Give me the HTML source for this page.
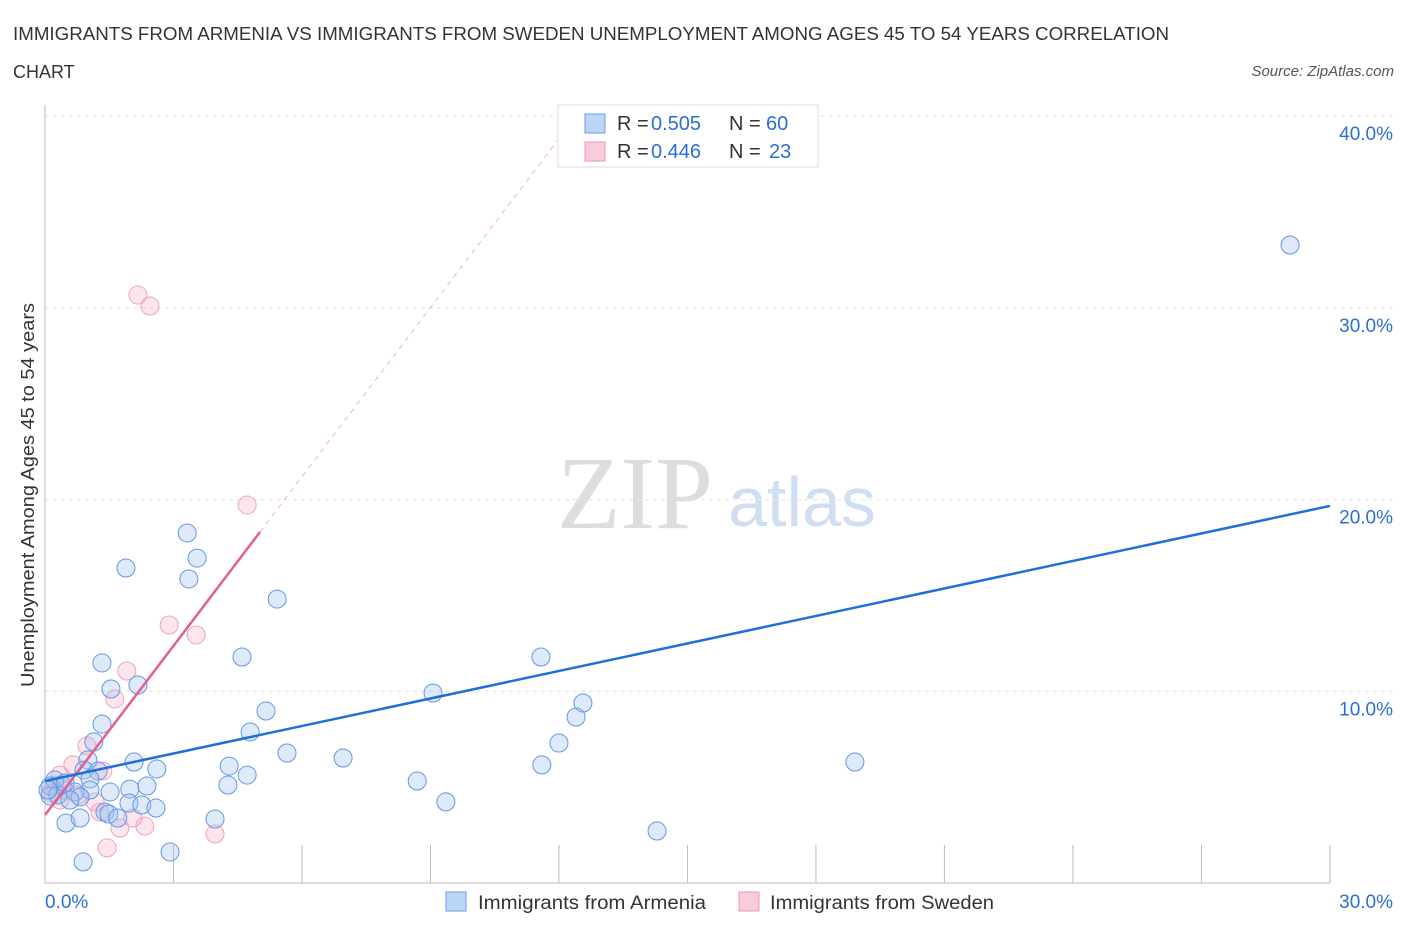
<!DOCTYPE html>
<html><head><meta charset="utf-8"><style>
body{margin:0;background:#fff;font-family:"Liberation Sans",sans-serif}
svg{display:block}
</style></head><body>
<svg width="1406" height="930" id="c">
<text x="13" y="40" font-size="18" fill="#333" textLength="1156" lengthAdjust="spacingAndGlyphs">IMMIGRANTS FROM ARMENIA VS IMMIGRANTS FROM SWEDEN UNEMPLOYMENT AMONG AGES 45 TO 54 YEARS CORRELATION</text>
<text x="13" y="78" font-size="18" fill="#333">CHART</text>
<text x="1394" y="76" font-size="15" fill="#555" text-anchor="end" font-style="italic">Source: ZipAtlas.com</text>
<text x="635" y="528" font-size="104" fill="#ddd" font-family="Liberation Serif,serif" text-anchor="middle">ZIP</text>
<text x="802" y="526" font-size="70" fill="#d0def2" text-anchor="middle">atlas</text>
<text transform="translate(34,495) rotate(-90)" font-size="18" fill="#333" text-anchor="middle" textLength="384" lengthAdjust="spacingAndGlyphs">Unemployment Among Ages 45 to 54 years</text>
<g id="grid"></g><g id="marks"></g>
<g>
<rect x="558" y="105" width="260" height="62" fill="#fff" stroke="#ddd"/>
<rect x="585" y="114" width="20" height="19" fill="#bcd4f5" stroke="#6a9ee6"/>
<rect x="585" y="142" width="20" height="19" fill="#f9ccd9" stroke="#eb98b2"/>
<text x="617" y="130" font-size="20" fill="#333">R =</text>
<text x="651" y="130" font-size="20" fill="#2b6fd6">0.505</text>
<text x="729" y="130" font-size="20" fill="#333">N =</text>
<text x="766" y="130" font-size="20" fill="#2b6fd6">60</text>
<text x="617" y="158" font-size="20" fill="#333">R =</text>
<text x="651" y="158" font-size="20" fill="#2b6fd6">0.446</text>
<text x="729" y="158" font-size="20" fill="#333">N =</text>
<text x="769" y="158" font-size="20" fill="#2b6fd6">23</text>
</g>
<g>
<rect x="446" y="892" width="20" height="19" fill="#bcd4f5" stroke="#6a9ee6"/>
<text x="478" y="909" font-size="19" fill="#333" textLength="228" lengthAdjust="spacingAndGlyphs">Immigrants from Armenia</text>
<rect x="739" y="892" width="20" height="19" fill="#f9ccd9" stroke="#eb98b2"/>
<text x="770" y="909" font-size="19" fill="#333" textLength="224" lengthAdjust="spacingAndGlyphs">Immigrants from Sweden</text>
</g>
</svg>
<script>
const blueX=[29.07,3.32,3.55,3.36,1.89,5.42,4.60,11.58,1.33,2.17,1.54,9.06,5.16,12.56,12.40,1.33,4.79,1.14,12.00,5.65,6.96,2.08,18.91,2.61,4.30,1.00,0.91,1.24,4.72,1.05,4.27,8.69,11.60,2.38,1.98,1.52,1.05,0.70,0.40,0.23,0.12,0.12,0.30,0.82,1.96,2.26,2.59,9.36,1.40,1.49,1.70,3.97,0.49,0.82,14.29,2.92,0.89,0.07,0.47,0.58];
const blueY=[33.28,18.26,16.95,15.86,16.43,14.81,11.79,11.79,11.48,10.33,10.12,9.91,8.97,9.39,8.66,8.29,7.88,7.36,7.30,6.78,6.52,6.31,6.31,5.95,6.10,6.42,5.89,5.84,5.63,5.43,5.11,5.32,6.16,5.06,4.90,4.75,4.85,4.75,5.11,5.37,5.06,4.54,4.59,4.49,4.17,4.07,3.91,4.23,3.70,3.60,3.39,3.34,3.13,3.39,2.71,1.62,1.10,4.85,5.22,4.33];
const pinkX=[2.17,2.45,4.72,2.90,3.53,1.91,1.63,0.98,0.65,1.35,0.35,0.23,0.12,0.35,1.17,1.28,1.75,2.05,2.33,1.45,3.97,0.47,0.77];
const pinkY=[30.67,30.10,19.72,13.46,12.94,11.06,9.60,7.15,6.16,5.84,5.63,5.11,4.69,4.33,4.23,3.70,2.87,3.39,2.97,1.83,2.56,4.85,4.59];
const yTicks=[10,20,30,40];
const xTickLabels=["0.0%","30.0%"];
const blueLine=[5.32,19.67];
const pinkLine=[3.55,18.31,5.02];
const NS="http://www.w3.org/2000/svg";
const sx=v=>45+v*42.83, sy=v=>883-v*19.17;
function mk(t,a,p){const e=document.createElementNS(NS,t);for(const k in a)e.setAttribute(k,a[k]);p.appendChild(e);return e;}
const g=document.getElementById('grid'),m=document.getElementById('marks');
yTicks.forEach(t=>{
 const l=mk('line',{x1:45,x2:1395,y1:sy(t),y2:sy(t),stroke:'#e2e2e2','stroke-dasharray':'4,4'},g);
 
 
 const tx=mk('text',{x:1393,y:sy(t)+24,'font-size':19,fill:'#2b6fd6','text-anchor':'end'},g);tx.textContent=t.toFixed(1)+'%';
 
 
});
mk('line',{x1:45,x2:45,y1:105,y2:883,stroke:'#bbb'},g);
mk('line',{x1:45,x2:1330,y1:883,y2:883,stroke:'#bbb'},g);
for(let i=1;i<=10;i++){mk('line',{x1:sx(i*3),x2:sx(i*3),y1:845,y2:883,stroke:'#bbb'},g);}
const xl0=mk('text',{x:45,y:908,'font-size':19,fill:'#2b6fd6'},g);xl0.textContent=xTickLabels[0];


const xl1=mk('text',{x:1393,y:908,'font-size':19,fill:'#2b6fd6','text-anchor':'end'},g);xl1.textContent=xTickLabels[1];


function dot(x,y,f,s,n){const c=mk('circle',{cx:sx(x),cy:sy(y),r:9,fill:f,stroke:s,'stroke-width':1},m);
 
 }
pinkX.forEach((x,i)=>dot(x,pinkY[i],'rgba(246,170,195,0.3)','#eea3bb','sweden-point'));
blueX.forEach((x,i)=>dot(x,blueY[i],'rgba(160,195,240,0.35)','#6197e2','armenia-point'));
const slope=(pinkLine[1]-pinkLine[0])/pinkLine[2];
const xEnd=(40-pinkLine[0])/slope;
const pd=mk('line',{x1:sx(pinkLine[2]),y1:sy(pinkLine[1]),x2:sx(xEnd),y2:sy(40),stroke:'#f0b0c4','stroke-dasharray':'5,5'},m);


const pl=mk('line',{x1:sx(0),y1:sy(pinkLine[0]),x2:sx(pinkLine[2]),y2:sy(pinkLine[1]),stroke:'#e4608a','stroke-width':2.5},m);


const bl=mk('line',{x1:sx(0),y1:sy(blueLine[0]),x2:sx(30),y2:sy(blueLine[1]),stroke:'#1f6fd8','stroke-width':2.5},m);


</script>
</body></html>
